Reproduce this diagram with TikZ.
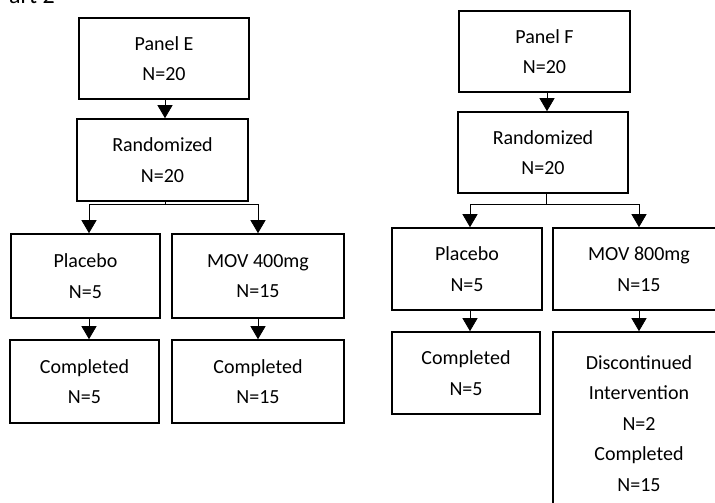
\documentclass[tikz,border=0pt]{standalone}
\usepackage{fontspec}
\setmainfont{Carlito}
\usetikzlibrary{arrows.meta}
\begin{document}
\begin{tikzpicture}[x=1pt,y=-1pt,
  box/.style={draw, line width=1.6pt, align=center, inner sep=0pt,
    font=\fontsize{20}{30.5}\selectfont},
  conn/.style={line width=0.8pt},
  arr/.style={line width=0.8pt, -{Triangle[width=15pt,length=13pt]}}]
\useasboundingbox (0,0) rectangle (715,503);
\clip (0,0) rectangle (715,503);
\fill[white] (0,0) rectangle (715,503);
% title fragment
\node[anchor=base west, inner sep=0pt, font=\fontsize{24}{28}\selectfont] (title) at (9,4) {art 2};
% ---- Panel E ----
\node[box, minimum width=170pt, minimum height=81pt] (pe) at (164,58.5) {Panel E\\N=20};
\node[box, minimum width=171pt, minimum height=82pt] (re) at (162.5,160) {Randomized\\N=20};
\node[box, minimum width=149pt, minimum height=84pt] (ple) at (85.5,276) {Placebo\\N=5};
\node[box, minimum width=172pt, minimum height=84pt] (me) at (258,276) {MOV 400mg\\N=15};
\node[box, minimum width=149pt, minimum height=83pt] (ce1) at (84.5,381.5) {Completed\\N=5};
\node[box, minimum width=172pt, minimum height=83pt] (ce2) at (258,381.5) {Completed\\N=15};
\coordinate (bE) at (165,204);
\coordinate (bEl) at (89,204);
\coordinate (bEr) at (258,204);
\draw[arr] (pe.south -| bE) -- (re.north -| bE);
\draw[conn] (re.south -| bE) -- (bE);
\draw[conn] (bEl) -- (bEr);
\draw[arr] (bEl) -- (bEl |- ple.north);
\draw[arr] (bEr) -- (bEr |- me.north);
\draw[arr] (ple.south -| bEl) -- (ce1.north -| bEl);
\draw[arr] (me.south -| bEr) -- (ce2.north -| bEr);
% ---- Panel F ----
\node[box, minimum width=171pt, minimum height=81pt] (pf) at (544.5,51.5) {Panel F\\N=20};
\node[box, minimum width=170pt, minimum height=81pt] (rf) at (543,152.5) {Randomized\\N=20};
\node[box, minimum width=150pt, minimum height=82pt] (plf) at (467,269) {Placebo\\N=5};
\node[box, minimum width=172pt, minimum height=82pt] (mf) at (639,269) {MOV 800mg\\N=15};
\node[box, minimum width=148pt, minimum height=82pt] (cf1) at (466,373) {Completed\\N=5};
\node[box, minimum width=172pt, minimum height=183pt] (df) at (639,423.5) {Discontinued\\Intervention\\N=2\\Completed\\N=15};
\coordinate (bF) at (546,204);
\coordinate (bFl) at (470,204);
\coordinate (bFr) at (639,204);
\draw[arr] (pf.south -| 547,0) -- (rf.north -| 547,0);
\draw[conn] (rf.south -| bF) -- (bF);
\draw[conn] (bFl) -- (bFr);
\draw[arr] (bFl) -- (bFl |- plf.north);
\draw[arr] (bFr) -- (bFr |- mf.north);
\draw[arr] (plf.south -| bFl) -- (cf1.north -| bFl);
\draw[arr] (mf.south -| bFr) -- (df.north -| bFr);
\end{tikzpicture}
\end{document}
